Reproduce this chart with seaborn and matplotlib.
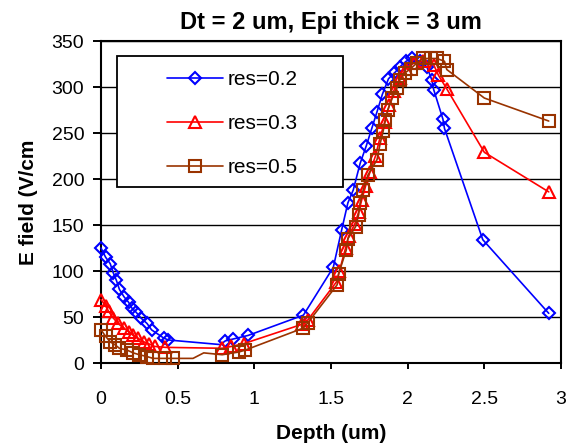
import matplotlib
matplotlib.use("Agg")
import matplotlib.pyplot as plt
import matplotlib.patches as mpatches
import pandas as pd
import seaborn as sns

# ---------------- data ----------------
title = "Dt = 2 um, Epi thick = 3 um"
xlabel = "Depth (um)"
ylabel = "E field (V/cm"
xticks = [0, 0.5, 1, 1.5, 2, 2.5, 3]
xtick_labels = ["0", "0.5", "1", "1.5", "2", "2.5", "3"]
yticks = [0, 50, 100, 150, 200, 250, 300, 350]

series_names = ["res=0.2", "res=0.3", "res=0.5"]

depth_02 = [0, 0.03, 0.06, 0.08, 0.10, 0.12, 0.15, 0.18, 0.20, 0.23, 0.26, 0.30, 0.33,
            0.41, 0.44, 0.78, 0.81, 0.86, 0.96, 1.32, 1.515, 1.57, 1.61, 1.645, 1.69,
            1.73, 1.766, 1.80, 1.835, 1.875, 1.918, 1.95, 1.99, 2.03, 2.08, 2.125,
            2.157, 2.17, 2.23, 2.24, 2.49, 2.92]
efield_02 = [125, 115, 108, 98, 90, 80, 72, 66, 60, 55, 49, 43, 36,
             27, 25, 20, 24, 26, 30, 52, 104, 145, 174, 188, 217,
             236, 255, 273, 292, 309, 316, 322, 328, 331, 328, 322,
             308, 297, 265, 255, 134, 54]
unmarked_02 = [15]

depth_03 = [0, 0.03, 0.05, 0.08, 0.11, 0.15, 0.18, 0.21, 0.24, 0.28, 0.31, 0.35, 0.42,
            0.79, 0.85, 0.93, 1.31, 1.35, 1.535, 1.555, 1.595, 1.615, 1.655, 1.68,
            1.70, 1.725, 1.755, 1.79, 1.82, 1.85, 1.88, 1.91, 1.95, 1.99, 2.04, 2.10,
            2.17, 2.20, 2.255, 2.50, 2.92]
efield_03 = [69, 62, 56, 49, 43, 38, 34, 30, 27, 23, 21, 18, 17,
             16, 18, 21, 42, 47, 88, 100, 125, 138, 151, 164,
             177, 192, 208, 225, 245, 262, 280, 296, 310, 320, 326, 328,
             324, 313, 298, 229, 186]
unmarked_03 = []

depth_05 = [0, 0.03, 0.06, 0.09, 0.12, 0.17, 0.21, 0.25, 0.30, 0.34, 0.42, 0.47, 0.60,
            0.67, 0.79, 0.90, 0.94, 1.32, 1.35, 1.54, 1.55, 1.60, 1.61, 1.66, 1.68,
            1.69, 1.71, 1.74, 1.80, 1.82, 1.84, 1.855, 1.87, 1.90, 1.93, 1.95, 1.98,
            2.02, 2.06, 2.10, 2.15, 2.19, 2.24, 2.255, 2.50, 2.92]
efield_05 = [36, 29, 23, 20, 16, 14, 11, 9, 7, 5, 5, 5, 5,
             11, 9, 12, 14, 38, 44, 85, 97, 123, 135, 148, 161,
             174, 188, 204, 221, 238, 252, 264, 275, 288, 299, 308, 315,
             320, 326, 331, 331, 331, 328, 319, 288, 263]
unmarked_05 = [12, 13]

# ---------------- styling ----------------
colors = ["#0000FF", "#FF0000", "#993300"]
markers = ["D", "^", "s"]
msizes = [6.0, 8.5, 8.5]

sns.set_style("ticks")
plt.rcParams['font.family'] = ['Liberation Sans', 'DejaVu Sans']
plt.rcParams['text.color'] = 'black'
plt.rcParams['axes.labelcolor'] = 'black'
plt.rcParams['xtick.color'] = 'black'
plt.rcParams['ytick.color'] = 'black'

fig = plt.figure(figsize=(5.74, 4.48), dpi=100)
ax = fig.add_axes([101 / 574, 1 - 363 / 448, 460 / 574, 322 / 448])

series = [(depth_02, efield_02, unmarked_02),
          (depth_03, efield_03, unmarked_03),
          (depth_05, efield_05, unmarked_05)]

for (xs, ys, hidden), name, c, m, ms in zip(series, series_names, colors, markers, msizes):
    df = pd.DataFrame({"depth": xs, "efield": ys})
    every = [i for i in range(len(xs)) if i not in hidden]
    sns.lineplot(data=df, x="depth", y="efield", ax=ax, estimator=None, sort=False,
                 color=c, lw=1.2, marker=m, markersize=ms, markerfacecolor="none",
                 markeredgecolor=c, markeredgewidth=1.5, markevery=every,
                 label=name, zorder=3, clip_on=False)

ax.set_xlim(0, 3)
ax.set_ylim(0, 350)
ax.set_xticks(xticks)
ax.set_xticklabels(xtick_labels)
ax.set_yticks(yticks)

ax.yaxis.grid(True, color="black", lw=1.0)
ax.xaxis.grid(False)
ax.set_axisbelow(True)

for sp in ax.spines.values():
    sp.set_color("black")
    sp.set_linewidth(1.5)
    sp.set_visible(True)

ax.tick_params(axis="x", direction="out", length=4, width=1.4, pad=16, labelsize=14)
ax.tick_params(axis="y", direction="out", length=6, width=1.4, pad=6, labelsize=14)

ax.set_title(title, fontsize=17, fontweight="bold", pad=9)
ax.set_xlabel(xlabel, fontsize=15, fontweight="bold", labelpad=12)
ax.set_ylabel(ylabel, fontsize=15, fontweight="bold", labelpad=10)

# legend frame (Excel style box) and entries
box = mpatches.Rectangle((16 / 460, (363 - 187) / 322), 226 / 460, 131 / 322,
                         transform=ax.transAxes, facecolor="white",
                         edgecolor="black", lw=1.3, zorder=5)
ax.add_patch(box)
handles, labels = ax.get_legend_handles_labels()
leg = ax.legend(handles, labels, loc="upper left",
                bbox_to_anchor=((167 - 101) / 460, (363 - 70) / 322),
                frameon=False, fontsize=15, handlelength=2.7, handletextpad=0.2,
                labelspacing=1.2, borderpad=0, borderaxespad=0)
leg.set_zorder(6)

fig.savefig("out.png", dpi=100)
